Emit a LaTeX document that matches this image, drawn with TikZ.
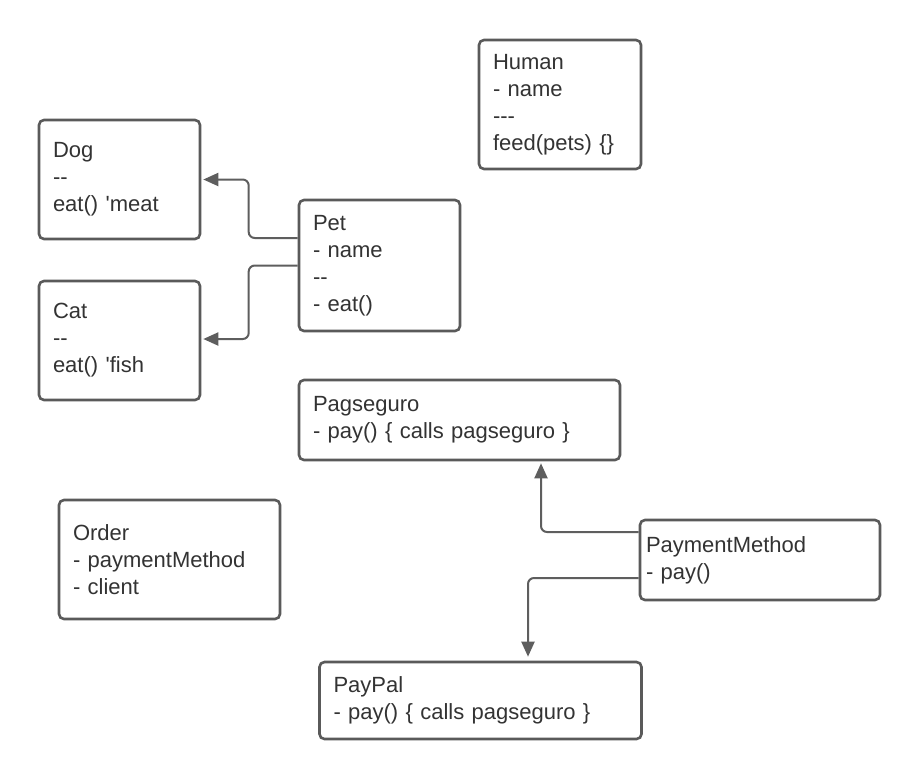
\documentclass[tikz,border=0pt]{standalone}
\usepackage{fontspec}
\setmainfont{Liberation Sans}[Ligatures=TeXOff]
\usetikzlibrary{arrows.meta}
\definecolor{edge}{HTML}{5A5A5A}
\definecolor{ink}{HTML}{333333}
\definecolor{conncol}{HTML}{5E5E5E}
\newcommand\hyph{-\kern0pt-}
\newcommand\hyphh{-\kern0pt-\kern0pt-}
\tikzset{
  umlbox/.style={draw=edge, line width=2.6pt, rounded corners=5pt, fill=white,
    text=ink, align=left, inner ysep=0pt, inner xsep=14pt,
    font=\fontsize{22}{27}\selectfont},
  conn/.style={draw=conncol, line width=2pt, rounded corners=6pt,
    -{Triangle[length=15pt,width=13pt]}},
}
\begin{document}
\begin{tikzpicture}[x=1pt,y=-1pt]
\useasboundingbox[fill=white] (0,0) rectangle (920,780);
\node[umlbox, minimum width=162pt, minimum height=129pt, text width=134pt] (Human) at (560,104.5)
  {Human\\- name\\\hyphh\\feed(pets) \{\}};
\node[umlbox, minimum width=161pt, minimum height=119pt, text width=133pt] (Dog) at (119.5,179.5)
  {Dog\\\hyph\\eat() 'meat};
\node[umlbox, minimum width=161pt, minimum height=131pt, text width=133pt] (Pet) at (379.5,265.5)
  {Pet\\- name\\\hyph\\- eat()};
\node[umlbox, minimum width=161pt, minimum height=119pt, text width=133pt] (Cat) at (119.5,340.5)
  {Cat\\\hyph\\eat() 'fish};
\node[umlbox, minimum width=321pt, minimum height=80pt, text width=293pt] (Pag) at (459.5,420)
  {Pagseguro\\- pay() \{ calls pagseguro \}};
\node[umlbox, minimum width=240pt, minimum height=80pt, inner xsep=6pt, text width=228pt] (PM) at (760,560)
  {PaymentMethod\\- pay()};
\node[umlbox, minimum width=321pt, minimum height=77pt, text width=294pt] (PayPal) at (480.5,700.5)
  {PayPal\\- pay() \{ calls pagseguro \}};
\node[umlbox, minimum width=221pt, minimum height=119pt, text width=193pt] (Order) at (169.5,559.5)
  {Order\\- paymentMethod\\- client};
\draw[conn] ([yshift=27.5pt]Pet.west) -- ++(-49pt,0) |- ([xshift=2pt]Dog.east);
\draw[conn] (Pet.west) -- ++(-49pt,0) |- ([xshift=2pt,yshift=1.5pt]Cat.east);
\draw[conn] ([yshift=28pt]PM.west) -| ([xshift=81.5pt,yshift=-2pt]Pag.south);
\draw[conn] ([yshift=-18pt]PM.west) -| ([xshift=47.5pt,yshift=4pt]PayPal.north);
\end{tikzpicture}
\end{document}
